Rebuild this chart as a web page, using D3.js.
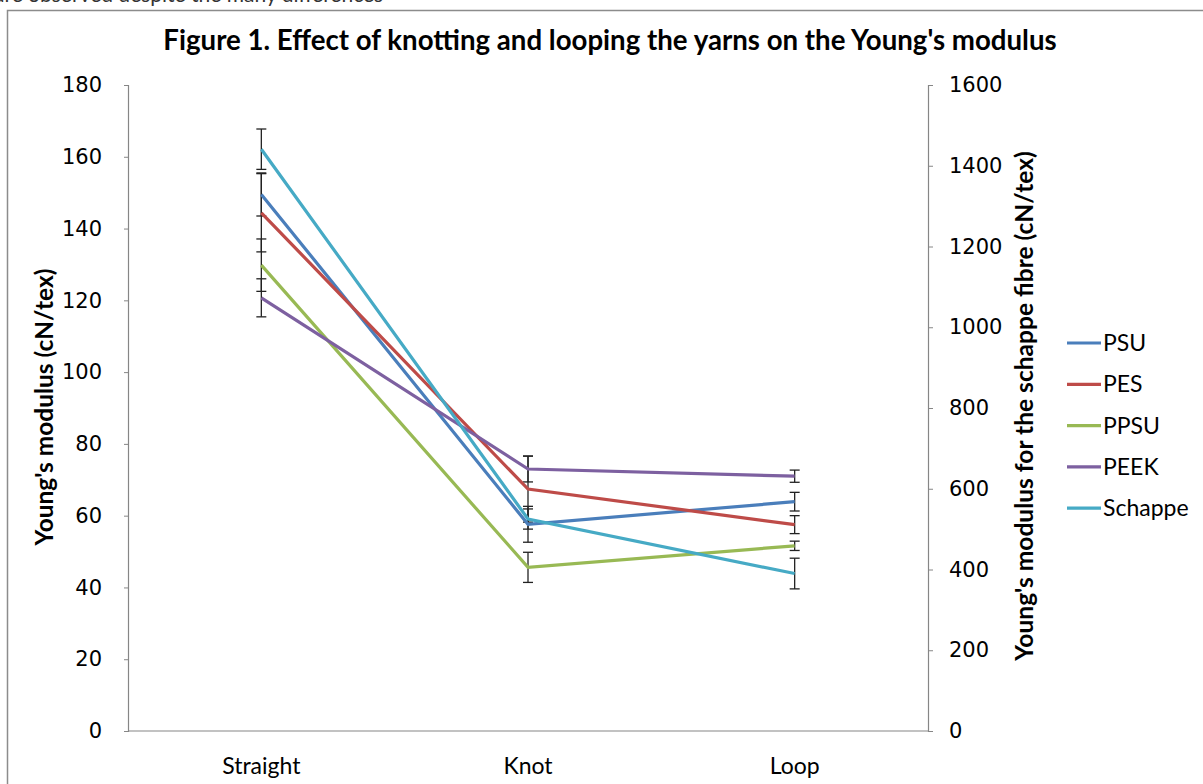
<!DOCTYPE html>
<html>
<head>
<meta charset="utf-8">
<script src="https://cdn.jsdelivr.net/npm/d3@7"></script>
<style>
  body { margin: 0; background: #fff; }
  svg { display: block; }
</style>
</head>
<body>
<div id="chart"></div>
<script>
// data
var categories = ["Straight", "Knot", "Loop"];
var seriesNames = ["PSU", "PES", "PPSU", "PEEK", "Schappe"];
var psuValues = [149.5, 57.6, 63.9];
var psuErrors = [6.0, 5.0, 2.6];
var pesValues = [144.4, 67.4, 57.5];
var pesErrors = [10.9, 9.2, 2.5];
var ppsuValues = [129.8, 45.6, 51.6];
var ppsuErrors = [7.3, 4.2, 1.3];
var peekValues = [120.7, 73.0, 71.0];
var peekErrors = [5.3, 3.6, 1.7];
// schappe is plotted against the right axis
var schappeValues = [1441, 525, 390];
var schappeErrors = [50, 25, 38];
var leftTicks = [0, 20, 40, 60, 80, 100, 120, 140, 160, 180];
var rightTicks = [0, 200, 400, 600, 800, 1000, 1200, 1400, 1600];

var colors = ["#4A7EBB", "#BE4B48", "#98B954", "#7D60A0", "#46AAC5"];

var svgWidth = 1203;
var svgHeight = 784;
var margin = { top: 85, right: 275, bottom: 53, left: 128 };
var width = svgWidth - margin.left - margin.right;
var height = svgHeight - margin.top - margin.bottom;

var svg = d3.select("#chart")
    .append("svg")
    .attr("width", svgWidth)
    .attr("height", svgHeight);

// text from the page above, cut off by the screenshot
svg.append("text")
    .attr("x", -6)
    .attr("y", 2)
    .attr("font-family", "Lato, sans-serif")
    .attr("font-size", 21)
    .attr("fill", "#333")
    .text("are observed despite the many differences");

// outer chart frame
svg.append("rect")
    .attr("x", 7.5)
    .attr("y", 10.5)
    .attr("width", 1210)
    .attr("height", 800)
    .attr("fill", "#fff")
    .attr("stroke", "#8c8c8c")
    .attr("stroke-width", 1.5);

// keeps a label to a measured width
function fit(sel, w) {
    var len = sel.node().getComputedTextLength();
    sel.attr("font-size", parseFloat(sel.attr("font-size")) * w / len);
}

var title = svg.append("text")
    .attr("x", 610)
    .attr("y", 50)
    .attr("text-anchor", "middle")
    .attr("font-family", "Lato, sans-serif")
    .attr("font-weight", "bold")
    .attr("font-size", 22)
    .text("Figure 1. Effect of knotting and looping the yarns on the Young's modulus");
fit(title, 894);

var chartGroup = svg.append("g")
    .attr("transform", `translate(${margin.left}, ${margin.top})`);

var xScale = d3.scalePoint()
    .domain(categories)
    .range([0, width])
    .padding(0.5);

var yLeft = d3.scaleLinear().domain([0, 180]).range([height, 0]);
var yRight = d3.scaleLinear().domain([0, 1600]).range([height, 0]);

// axes
var leftAxis = d3.axisLeft(yLeft).tickValues(leftTicks).tickSize(4).tickPadding(22)
    .tickFormat(d3.format("d"));
var rightAxis = d3.axisRight(yRight).tickValues(rightTicks).tickSize(5).tickPadding(16)
    .tickFormat(d3.format("d"));

var gLeft = chartGroup.append("g").call(leftAxis);
var gRight = chartGroup.append("g")
    .attr("transform", `translate(${width}, 0)`)
    .call(rightAxis);

[gLeft, gRight].forEach(function(g) {
    g.select(".domain").attr("stroke", "#868686").attr("stroke-width", 1.2);
    g.selectAll(".tick line").attr("stroke", "#868686");
    g.selectAll(".tick text")
        .attr("font-family", "DejaVu Sans, Verdana, sans-serif")
        .attr("font-size", 21)
        .attr("fill", "#000");
});

// bottom axis line and category labels
chartGroup.append("line")
    .attr("x1", 0).attr("x2", width)
    .attr("y1", height).attr("y2", height)
    .attr("stroke", "#868686")
    .attr("stroke-width", 1.2);

chartGroup.selectAll(".cat")
    .data(categories)
    .enter()
    .append("text")
    .attr("class", "cat")
    .attr("x", d => xScale(d))
    .attr("y", height + 43)
    .attr("text-anchor", "middle")
    .attr("font-family", "Lato, sans-serif")
    .attr("font-size", 23)
    .text(d => d);

// axis titles
var leftTitle = svg.append("text")
    .attr("transform", "translate(53, 407) rotate(-90)")
    .attr("text-anchor", "middle")
    .attr("font-family", "Lato, sans-serif")
    .attr("font-weight", "bold")
    .attr("font-size", 20)
    .text("Young's modulus (cN/tex)");
fit(leftTitle, 277);

var rightTitle = svg.append("text")
    .attr("transform", "translate(1033, 406) rotate(-90)")
    .attr("text-anchor", "middle")
    .attr("font-family", "Lato, sans-serif")
    .attr("font-weight", "bold")
    .attr("font-size", 20)
    .text("Young's modulus for the schappe fibre (cN/tex)");
fit(rightTitle, 510);

// build series from the arrays
var series = [
    { name: seriesNames[0], values: psuValues, errors: psuErrors, scale: yLeft },
    { name: seriesNames[1], values: pesValues, errors: pesErrors, scale: yLeft },
    { name: seriesNames[2], values: ppsuValues, errors: ppsuErrors, scale: yLeft },
    { name: seriesNames[3], values: peekValues, errors: peekErrors, scale: yLeft },
    { name: seriesNames[4], values: schappeValues, errors: schappeErrors, scale: yRight }
];

// error bars first, lines drawn on top
var capHalf = 5;
series.forEach(function(s) {
    var pts = categories.map(function(c, i) {
        return { x: xScale(c), v: s.values[i], e: s.errors[i] };
    });
    var eg = chartGroup.append("g")
        .attr("stroke", "#222")
        .attr("stroke-width", 1.3);
    eg.selectAll(".stem")
        .data(pts)
        .enter()
        .append("line")
        .attr("x1", d => d.x).attr("x2", d => d.x)
        .attr("y1", d => s.scale(d.v + d.e))
        .attr("y2", d => s.scale(d.v - d.e));
    eg.selectAll(".capTop")
        .data(pts)
        .enter()
        .append("line")
        .attr("x1", d => d.x - capHalf).attr("x2", d => d.x + capHalf)
        .attr("y1", d => s.scale(d.v + d.e))
        .attr("y2", d => s.scale(d.v + d.e));
    eg.selectAll(".capBottom")
        .data(pts)
        .enter()
        .append("line")
        .attr("x1", d => d.x - capHalf).attr("x2", d => d.x + capHalf)
        .attr("y1", d => s.scale(d.v - d.e))
        .attr("y2", d => s.scale(d.v - d.e));
});

series.forEach(function(s, k) {
    var line = d3.line()
        .x((d, i) => xScale(categories[i]))
        .y(d => s.scale(d));
    chartGroup.append("path")
        .datum(s.values)
        .attr("fill", "none")
        .attr("stroke", colors[k])
        .attr("stroke-width", 3.2)
        .attr("d", line);
});

// legend
var legend = svg.append("g")
    .attr("transform", "translate(1067, 343)");

var rows = legend.selectAll(".row")
    .data(seriesNames)
    .enter()
    .append("g")
    .attr("transform", (d, i) => `translate(0, ${i * 41.3})`);

rows.append("line")
    .attr("x1", 0).attr("x2", 34)
    .attr("y1", 0).attr("y2", 0)
    .attr("stroke", (d, i) => colors[i])
    .attr("stroke-width", 3.2);

rows.append("text")
    .attr("x", 36)
    .attr("y", 8)
    .attr("font-family", "Lato, sans-serif")
    .attr("font-size", 23)
    .text(d => d);
</script>
</body>
</html>
